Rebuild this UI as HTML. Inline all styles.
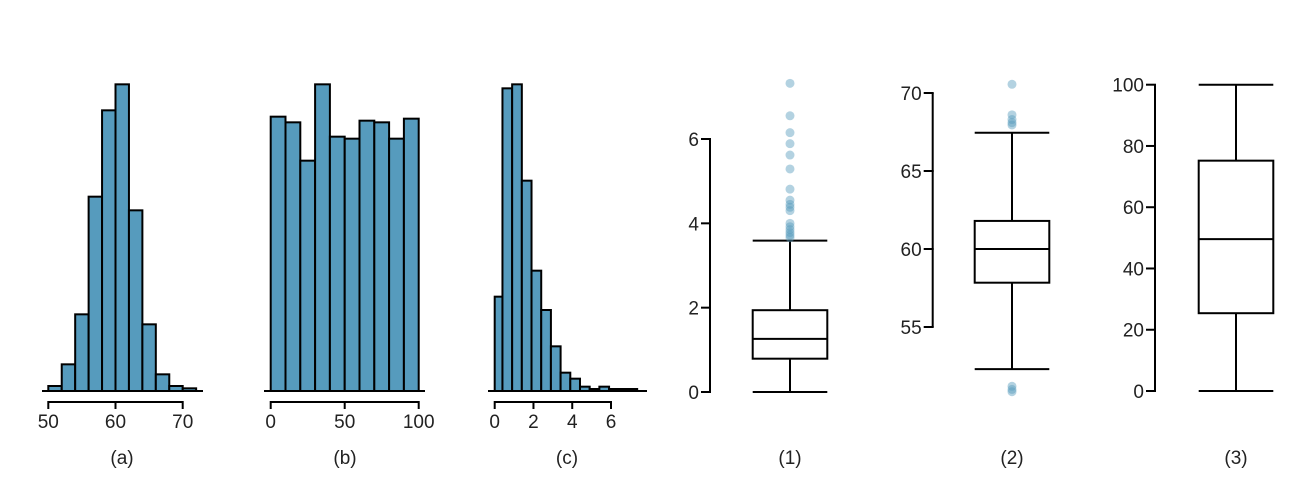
<!DOCTYPE html>
<html><head><meta charset="utf-8"><style>
html,body{margin:0;padding:0;background:#fff;}
svg text{font-family:"Liberation Sans",Arial,sans-serif;font-size:19px;fill:#222;}
</style></head><body>
<svg id="c" width="1314" height="498" viewBox="0 0 1314 498" xmlns="http://www.w3.org/2000/svg"></svg>
<script>
// Histogram (a)
const aEdgeStart = 50, aBinWidth = 2;
const aCounts = [15,80,230,583,842,920,542,200,50,15,8];
const aTicks = [50,60,70];
// Histogram (b)
const bEdgeStart = 0, bBinWidth = 10;
const bCounts = [823,806,691,920,763,757,811,806,757,817];
const bTicks = [0,50,100];
// Histogram (c)
const cEdges = [0,0.4,0.9,1.4,1.9,2.4,2.9,3.4,3.9,4.4,4.9,5.4,5.9,6.4,6.9,7.35];
const cCounts = [283,908,920,631,361,243,134,55,37,13,6,13,6,6,6];
const cTicks = [0,2,4,6];
// Boxplot (1)
const box1Stats = [0,0.79,1.26,1.94,3.59];
const box1Outliers = [7.32,6.55,6.15,5.89,5.62,5.29,4.81,4.55,4.45,4.38,4.3,4.0,3.92,3.85,3.78,3.72,3.66];
const box1Ticks = [0,2,4,6];
// Boxplot (2)
const box2Stats = [52.3,57.84,60,61.8,67.45];
const box2Outliers = [70.56,68.6,68.3,68.1,67.95,51.2,51.0,50.85];
const box2Ticks = [55,60,65,70];
// Boxplot (3)
const box3Stats = [0,25.4,49.6,75.2,100];
const box3Outliers = [];
const box3Ticks = [0,20,40,60,80,100];
const labels = ["(a)","(b)","(c)","(1)","(2)","(3)"];

const svg = document.getElementById('c');
const NS = 'http://www.w3.org/2000/svg';
function mk(tag, attrs){const e=document.createElementNS(NS,tag);for(const k in attrs)e.setAttribute(k,attrs[k]);svg.appendChild(e);return e;}
function lin(d0,d1,r0,r1){return v=>r0+(v-d0)*(r1-r0)/(d1-d0);}
const FILL='#569bbd', SW=2;

function hist(name, edges, counts, ticks, xs, baseX0, baseX1, labelX, labelText){
  const y = v => 391 - v/3;
  const base = mk('line',{x1:baseX0,x2:baseX1,y1:391,y2:391,stroke:'#000','stroke-width':SW});
  
  
  counts.forEach((c,i)=>{
    const x0=xs(edges[i]), x1=xs(edges[i+1]);
    const r = mk('rect',{x:x0,y:y(c),width:x1-x0,height:391-y(c),fill:FILL,stroke:'#000','stroke-width':SW});
    
    
  });
  const ax = mk('line',{x1:xs(ticks[0]),x2:xs(ticks[ticks.length-1]),y1:402,y2:402,stroke:'#000','stroke-width':SW});
  
  
  ticks.forEach(t=>{
    const tl = mk('line',{x1:xs(t),x2:xs(t),y1:401,y2:409,stroke:'#000','stroke-width':SW});
    
    
    const tx = mk('text',{x:xs(t),y:428,'text-anchor':'middle'});
    tx.textContent=t;
    
    
  });
  const lb = mk('text',{x:labelX,y:464,'text-anchor':'middle'});
  lb.textContent=labelText;
  
  
}

const aEdges = aCounts.map((_,i)=>aEdgeStart+i*aBinWidth).concat([aEdgeStart+aCounts.length*aBinWidth]);
const bEdges = bCounts.map((_,i)=>bEdgeStart+i*bBinWidth).concat([bEdgeStart+bCounts.length*bBinWidth]);
hist('hist-a', aEdges, aCounts, aTicks, lin(50,70,48.3,182.7), 42, 203, 122, labels[0]);
hist('hist-b', bEdges, bCounts, bTicks, lin(0,100,270.7,418.7), 264, 425, 345, labels[1]);
hist('hist-c', cEdges, cCounts, cTicks, lin(0,6,494.7,611), 488, 647, 567, labels[2]);

function box(name, stats, outliers, ticks, ys, axisX, bx0, bx1, labelText){
  const cx=(bx0+bx1)/2;
  const ax = mk('line',{x1:axisX,x2:axisX,y1:ys(ticks[0]),y2:ys(ticks[ticks.length-1]),stroke:'#000','stroke-width':SW});
  
  
  ticks.forEach(t=>{
    const tl = mk('line',{x1:axisX-9,x2:axisX+1,y1:ys(t),y2:ys(t),stroke:'#000','stroke-width':SW});
    
    
    const tx = mk('text',{x:axisX-11,y:ys(t)+7,'text-anchor':'end'});
    tx.textContent=t;
    
    
  });
  const w1 = mk('line',{x1:cx,x2:cx,y1:ys(stats[0]),y2:ys(stats[1]),stroke:'#000','stroke-width':SW});
  
  
  const w2 = mk('line',{x1:cx,x2:cx,y1:ys(stats[3]),y2:ys(stats[4]),stroke:'#000','stroke-width':SW});
  
  
  [0,4].forEach(i=>{
    const c = mk('line',{x1:bx0,x2:bx1,y1:ys(stats[i]),y2:ys(stats[i]),stroke:'#000','stroke-width':SW});
    
    
  });
  const r = mk('rect',{x:bx0,y:ys(stats[3]),width:bx1-bx0,height:ys(stats[1])-ys(stats[3]),fill:'#fff',stroke:'#000','stroke-width':SW});
  
  
  const m = mk('line',{x1:bx0,x2:bx1,y1:ys(stats[2]),y2:ys(stats[2]),stroke:'#000','stroke-width':SW});
  
  
  outliers.forEach(o=>{
    const p = mk('circle',{cx:cx,cy:ys(o),r:4.5,fill:FILL,'fill-opacity':0.45});
    
    
  });
  const lb = mk('text',{x:cx,y:464,'text-anchor':'middle'});
  lb.textContent=labelText;
  
  
}
box('boxplot-1', box1Stats, box1Outliers, box1Ticks, lin(0,6,392,139), 710, 752.7, 827.3, labels[3]);
box('boxplot-2', box2Stats, box2Outliers, box2Ticks, lin(55,70,327,93), 932.7, 974.7, 1049.3, labels[4]);
box('boxplot-3', box3Stats, box3Outliers, box3Ticks, lin(0,100,391,84.7), 1155, 1198.7, 1273.3, labels[5]);
</script>
</body></html>
